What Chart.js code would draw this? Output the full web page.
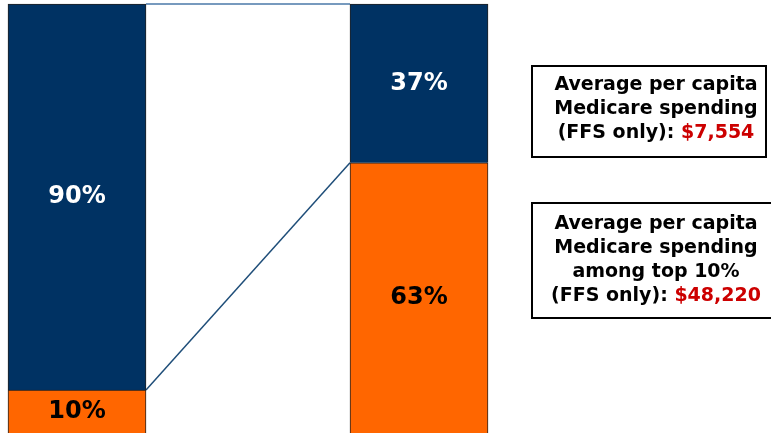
<!DOCTYPE html>
<html>
<head>
<meta charset="utf-8">
<script src="https://cdn.jsdelivr.net/npm/chart.js@4"></script>
<style>
  body { margin: 0; background: #fff; }
  #wrap { width: 771px; height: 433px; position: relative; }
</style>
</head>
<body>
<div id="wrap"><canvas id="chart"></canvas></div>
<script>
const categories = ["Beneficiaries", "Spending"];
const top10 = [10, 63];
const others = [90, 37];
const boxTexts = [
  { lines: ["Average per capita", "Medicare spending"], last: "(FFS only): ", amount: "$7,554" },
  { lines: ["Average per capita", "Medicare spending", "among top 10%"], last: "(FFS only): ", amount: "$48,220" }
];

const NAVY = "#003263";
const ORANGE = "#ff6600";

// connector lines between the two bars
const connectors = {
  id: "connectors",
  beforeDatasetsDraw(chart) {
    const { ctx } = chart;
    const lo = chart.getDatasetMeta(0).data;
    const hi = chart.getDatasetMeta(1).data;
    ctx.save();
    ctx.strokeStyle = "#1f4e79";
    ctx.lineWidth = 1.5;
    ctx.beginPath();
    ctx.moveTo(lo[0].x + lo[0].width / 2, lo[0].y);
    ctx.lineTo(lo[1].x - lo[1].width / 2, lo[1].y);
    ctx.stroke();
    ctx.strokeStyle = "#4a78a8";
    ctx.lineWidth = 1.5;
    ctx.beginPath();
    ctx.moveTo(hi[0].x + hi[0].width / 2, hi[0].y);
    ctx.lineTo(hi[1].x - hi[1].width / 2, hi[1].y);
    ctx.stroke();
    ctx.restore();
  }
};

// percent labels inside segments
const segLabels = {
  id: "segLabels",
  afterDatasetsDraw(chart) {
    const { ctx } = chart;
    ctx.save();
    ctx.font = "bold 24px 'DejaVu Sans', Verdana, sans-serif";
    ctx.textAlign = "center";
    ctx.textBaseline = "middle";
    chart.data.datasets.forEach((ds, di) => {
      chart.getDatasetMeta(di).data.forEach((bar, i) => {
        const bottom = Math.min(bar.base, chart.height);
        ctx.fillStyle = di === 0 ? "#000" : "#fff";
        ctx.fillText(ds.data[i] + "%", bar.x, (bar.y + bottom) / 2);
      });
    });
    ctx.restore();
  }
};

// boxed notes on the right
const notes = {
  id: "notes",
  afterDraw(chart) {
    const { ctx } = chart;
    const boxes = [
      { x: 532, y: 66, w: 234, h: 91, cy: 85 },
      { x: 532, y: 203, w: 244, h: 115, cy: 224 }
    ];
    ctx.save();
    ctx.font = "bold 19px 'DejaVu Sans', Verdana, sans-serif";
    ctx.textBaseline = "middle";
    boxTexts.forEach((t, bi) => {
      const b = boxes[bi];
      ctx.strokeStyle = "#000";
      ctx.lineWidth = 2;
      ctx.strokeRect(b.x, b.y, b.w, b.h);
      const cx = 656;
      let y = b.cy;
      ctx.textAlign = "center";
      ctx.fillStyle = "#000";
      t.lines.forEach(line => {
        ctx.fillText(line, cx, y);
        y += 24;
      });
      const w1 = ctx.measureText(t.last).width;
      const w2 = ctx.measureText(t.amount).width;
      const sx = cx - (w1 + w2) / 2;
      ctx.textAlign = "left";
      ctx.fillText(t.last, sx, y);
      ctx.fillStyle = "#cc0000";
      ctx.fillText(t.amount, sx + w1, y);
    });
    ctx.restore();
  }
};

new Chart(document.getElementById("chart"), {
  type: "bar",
  data: {
    labels: categories,
    datasets: [
      { label: "Top 10%", data: top10, backgroundColor: ORANGE },
      { label: "Other 90%", data: others, backgroundColor: NAVY }
    ]
  },
  options: {
    responsive: true,
    maintainAspectRatio: false,
    animation: false,
    layout: { padding: { left: 77, right: 352, top: 4, bottom: 0 } },
    datasets: {
      bar: {
        barThickness: 138,
        borderWidth: 1,
        borderColor: "#222",
        borderSkipped: "start",
        clip: false
      }
    },
    scales: {
      x: { stacked: true, offset: false, display: false },
      y: { stacked: true, min: 0, max: 100, display: false }
    },
    plugins: {
      legend: { display: false },
      tooltip: { enabled: false }
    }
  },
  plugins: [connectors, segLabels, notes]
});
</script>
</body>
</html>
